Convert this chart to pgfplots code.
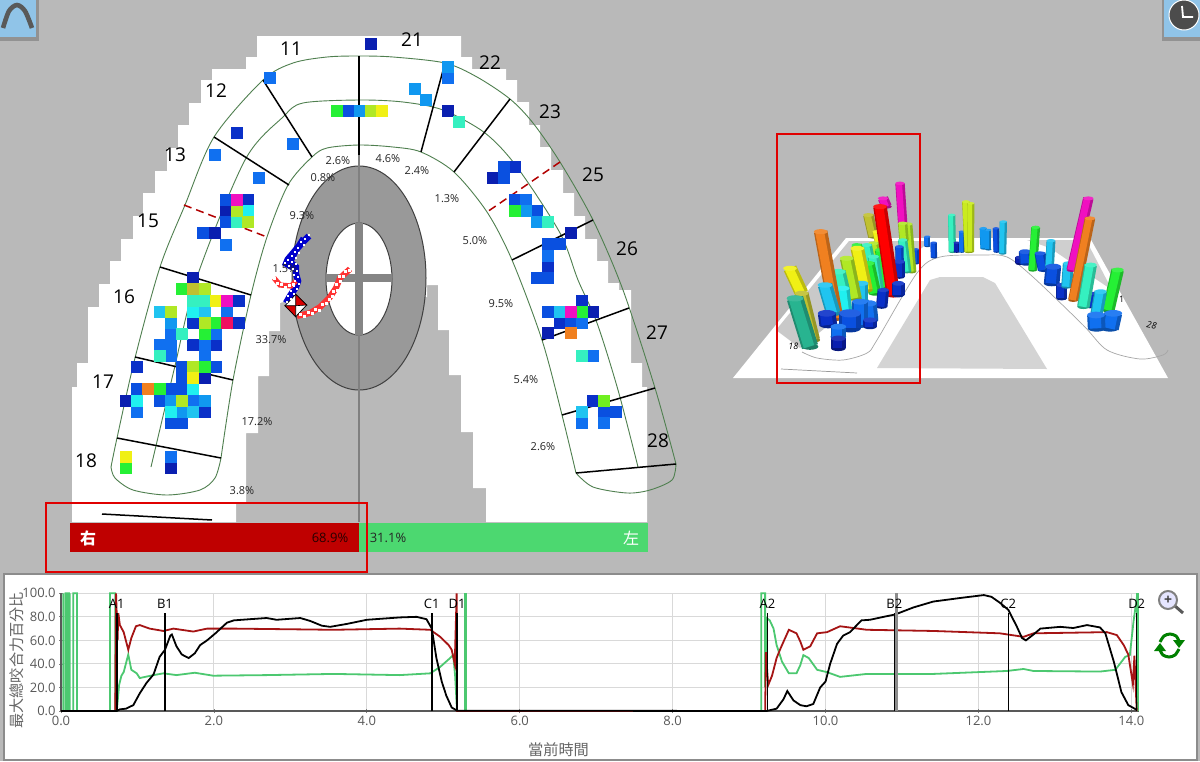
\documentclass[border=0pt]{standalone}
\usepackage{pgfplots}
\pgfplotsset{compat=1.18}
\usepackage{fontspec}
\setmainfont{Open Sans}
\newfontfamily\cjk{Noto Sans CJK TC}
\definecolor{bg}{HTML}{B9B9B9}
\definecolor{nav}{HTML}{0A1FB0}
\definecolor{dk}{HTML}{0A30C8}
\definecolor{bl}{HTML}{0A50E0}
\definecolor{md}{HTML}{1070F0}
\definecolor{sk}{HTML}{1098F0}
\definecolor{skb}{HTML}{20C4F0}
\definecolor{cy}{HTML}{20F0F0}
\definecolor{te}{HTML}{35F0C0}
\definecolor{gr}{HTML}{25F035}
\definecolor{lg}{HTML}{70F020}
\definecolor{yg}{HTML}{B0E825}
\definecolor{ye}{HTML}{F0F015}
\definecolor{gd}{HTML}{C0C030}
\definecolor{or}{HTML}{F08020}
\definecolor{ma}{HTML}{F010C0}
\definecolor{rd}{HTML}{F01060}
\definecolor{arch}{HTML}{4F7F4F}
\definecolor{chartgreen}{HTML}{4CC870}
\definecolor{chartred}{HTML}{A51414}
\definecolor{barg}{HTML}{4CD870}
\definecolor{icon}{HTML}{90C4E8}
\newcommand{\cells}[2]{\addplot[only marks,mark=square*,mark size=2.8pt,color=#1,mark options={line width=0pt}] coordinates {#2};}
\newcommand{\cyl}[6]{%
 \draw[fill=#5!70!black,draw=none] (axis cs:#3,#4) ellipse [x radius=#6*0.78,y radius=#6/3.4];
 \addplot[draw=#5!78!black,line width=#6*0.26pt,line cap=butt] coordinates {(#1,#2)(#3,#4)};
 \addplot[draw=#5,line width=#6*0.17pt,line cap=butt] coordinates {(#1-3,#2)(#3-3,#4)};
 \draw[fill=#5!90!white,draw=none] (axis cs:#1,#2) ellipse [x radius=#6*0.78,y radius=#6/3.4];}
\newcommand{\tooth}[3]{\node[font=\fontsize{9.5pt}{10pt}\selectfont,black] at (#1,#2) {#3};}
\newcommand{\pct}[3]{\node[font=\fontsize{5.5pt}{6pt}\selectfont,black!85] at (#1,#2) {#3};}
\newcommand{\curve}[1]{\addplot[draw=arch,line width=0.45pt,smooth,tension=0.5] coordinates {#1};}
\newcommand{\sep}[1]{\addplot[draw=black,line width=0.75pt] coordinates {#1};}
\newcommand{\mk}[2]{\addplot[black,line width=0.75pt] coordinates {(#1,0)(#1,83)};
 \node[font=\fontsize{6.5pt}{7pt}\selectfont,black] at (#1,91) {#2};}
\begin{document}
\begin{tikzpicture}
\begin{axis}[name=main,at={(0pt,0pt)},anchor=south west,scale only axis,width=600pt,height=380.5pt,xmin=0,xmax=1200,ymin=0,ymax=761,y dir=reverse,hide axis,clip=true]
% background
\addplot[fill=bg,draw=none] coordinates {(0,0)(1200,0)(1200,761)(0,761)};
% white stepped area
\addplot[fill=white,draw=none] coordinates {
(257,36)(461,36)(461,57)(472,57)(472,69)(506,69)(506,80)(517,80)(517,102)(529,102)(529,125)(540,125)(540,147)(551,147)(551,170)(563,170)(563,193)(574,193)(574,216)(585,216)(585,239)(597,239)(597,261)(608,261)(608,283)(619,283)(619,290)(631,290)(631,363)(642,363)(642,387)(647,387)(647,522)
(486,522)(486,488)(473,488)(473,432)(461,432)(461,375)(449,375)(449,330)(438,330)(438,285)(427,285)(427,297)(300,297)(280,303)(280,331)(269,331)(269,376)(258,376)(258,433)(246,433)(246,502)(236,502)(236,522)
(72,522)(72,387)(77,387)(77,363)(88,363)(88,307)(99,307)(99,284)(110,284)(110,261)(121,261)(121,239)(133,239)(133,216)(143,216)(143,193)(155,193)(155,171)(167,171)(167,148)(178,148)(178,125)(189,125)(189,103)(201,103)(201,80)(212,80)(212,69)(246,69)(246,57)(257,57)};
% arch
\curve{(111,467)(117,438)(135,358)(160,267)(185,205)(214,137)(263,80)(293,63)(327,57)(359,56)(393,57)(445,63)(477,77)(510,99)(533,123)(560,162)(593,220)(623,290)(655,388)(676,464)}
\curve{(676,464)(672,480)(650,490)(627,493)(593,487)(576,473)}
\curve{(111,467)(115,478)(133,490)(167,495)(200,490)(215,478)(221,458)}
\curve{(221,458)(233,380)(251,295)(267,237)(288,185)(312,157)(327,148)(359,145)(393,147)(421,152)(454,172)(487,212)(512,260)(542,340)(562,415)(576,473)}
\curve{(151,467)(174,370)(197,277)(245,160)(283,117)(303,103)(359,100)(403,102)(443,110)(485,133)(517,167)(560,233)(578,280)(597,323)(618,390)(638,467)}
% ellipse
\draw[fill=black!40,draw=black!75,line width=0.5pt] (axis cs:359,278) ellipse [x radius=67,y radius=112];
\draw[fill=white,draw=black!75,line width=0.5pt] (axis cs:359,279) ellipse [x radius=33,y radius=56];
\addplot[draw=black!50,line width=0.6pt] coordinates {(359,155)(359,522)};
\addplot[fill=black!48,draw=none] coordinates {(355,223)(363,223)(363,335)(355,335)};
\addplot[fill=black!48,draw=none] coordinates {(326,274)(392,274)(392,282)(326,282)};
% separators
\sep{(359,56)(359,155)}
\sep{(263,80)(312,157)}
\sep{(214,137)(289,185)}
\sep{(160,267)(251,295)}
\sep{(135,357)(233,380)}
\sep{(117,438)(221,458)}
\sep{(102,514)(212,520)}
\sep{(445,63)(421,152)}
\sep{(510,99)(454,172)}
\sep{(593,220)(512,260)}
\sep{(629,308)(542,340)}
\sep{(655,388)(562,415)}
\sep{(676,464)(576,473)}
\addplot[draw=red!70!black,line width=0.75pt,dash pattern=on 4pt off 2.5pt] coordinates {(184,205)(267,237)};
\addplot[draw=red!70!black,line width=0.75pt,dash pattern=on 4pt off 2.5pt] coordinates {(560,162)(487,212)};
% cells
\cells{nav}{(193.3,278.3)(370.7,44)(448.3,111)(493.3,177.7)(571,233.3)(548.3,333.3)(593.3,311.7)(204.7,378.3)(171,467.7)(125.7,400.7)(214.7,233.3)(225.7,211.3)}
\cells{dk}{(137,367.3)(238.7,300.7)(193.3,322.7)(193.3,345.3)(216,345.3)(204.7,412)(237.3,133.3)(248.3,200)(515.3,166.7)(548.3,266.7)(582.3,300.7)(560,322.7)(593.3,400.7)(238.7,322.7)}
\cells{bl}{(137,389.3)(182.3,367.3)(216,367.3)(182.3,378.3)(171,389.3)(182.3,389.3)(159.7,400.7)(171,423)(182.3,423)(225.7,200)(225.7,222.3)(203.3,233.3)(348.7,111)(504,166.7)(504,177.7)(515.3,200)(537.3,211.3)(548.3,244.3)(560,244.3)(537.3,278)(548.3,278)(548.3,311.7)(571,322.7)(604.3,412)(615.7,412)}
\cells{md}{(216,334)(159.7,345.3)(171,345.3)(171,356.3)(204.7,345.3)(204.7,356.3)(171,334)(227.3,311.7)(137,412)(171,456.7)(270,77.7)(292.7,144.3)(214.7,155.3)(259,177.7)(225.7,244.7)(448.3,77.7)(526.3,200)(548.3,255.7)(582.3,322.7)(593.3,356)(582.3,422.7)(604.3,422.7)(193.3,400.7)}
\cells{sk}{(171,322.7)(171,400.7)(182.3,412)(204.7,400.7)(448.3,66.7)(415,88.7)(426.3,99.7)(360,111)(526.3,211.3)(537.3,222.3)}
\cells{skb}{(204.7,311.7)(193.3,412)(560,311.7)(582.3,412)(159.7,311.7)}
\cells{cy}{(193.3,311.7)(193.3,389.3)(137,400.7)(171,412)(248.3,211.3)}
\cells{te}{(193.3,300.7)(204.7,300.7)(182.3,334)(159.7,356.3)(237.3,222.3)(459.3,122)(548.3,222.3)(582.3,356)}
\cells{gr}{(182.3,289.3)(216,322.7)(204.7,334)(204.7,367.3)(159.7,389.3)(125.7,467.7)(336.7,111)(515.3,211.3)(582.3,311.7)}
\cells{lg}{(604.3,400.7)}
\cells{yg}{(204.7,289.3)(204.7,322.7)(193.3,367.3)(182.3,400.7)(171,311.7)(237.3,211.3)(248.3,222.3)(371,111)}
\cells{ye}{(216,300.7)(193.3,378.3)(125.7,456.7)(381.7,111)}
\cells{gd}{(193.3,289.3)}
\cells{or}{(148.3,389.3)(571,333.3)}
\cells{ma}{(227.3,300.7)(237.3,200)(571,311.7)}
\cells{rd}{(227.3,322.7)}
% traces
\addplot[draw=blue!80!black,line width=3.2pt] coordinates {(309,236)(302,243)(296,250)(292,258)(290,262)(296,267)(296,274)(298,281)(296,287)(290,296)(286,303)};
\addplot[draw=blue!80!black,line width=2.4pt] coordinates {(303,238)(298,246)(287,259)(285,264)(292,268)};
\addplot[only marks,mark=square*,mark size=0.45pt,color=white,mark options={line width=0pt}] coordinates {(309,235)(305,239)(301,242)(304,245)(298,248)(295,252)(299,253)(292,256)(296,258)(288,260)(292,262)(285,263)(289,266)(296,264)(293,269)(297,271)(294,275)(298,277)(295,281)(299,284)(294,286)(297,289)(291,291)(294,294)(288,296)(291,299)(287,302)};
\addplot[draw=red!80!white,line width=2.6pt] coordinates {(274,278)(280,285)(291,286)(296,281)};
\addplot[draw=red!80!white,line width=3pt] coordinates {(297,316)(310,313)(320,307)(330,297)(336,288)(340,278)(350,269)};
\addplot[only marks,mark=square*,mark size=0.5pt,color=white,mark options={line width=0pt}] coordinates {(274,278)(277,283)(281,284)(285,287)(289,285)(293,284)(300,314)(304,316)(308,312)(312,313)(315,309)(319,310)(322,304)(326,303)(329,299)(332,296)(333,291)(337,290)(336,284)(340,281)(339,276)(343,276)(345,271)(349,270)};
% diamond
\addplot[fill=white,draw=black,line width=0.4pt] coordinates {(295.7,294.3)(306.7,305)(295.7,316.7)(285,305.7)} --cycle;
\addplot[fill=red!85!black,draw=black,line width=0.3pt] coordinates {(295.7,294.3)(306.7,305)(295.7,305.7)} --cycle;
\addplot[fill=red!85!black,draw=black,line width=0.3pt] coordinates {(285,305.7)(295.7,316.7)(295.7,305.7)} --cycle;
% labels
\tooth{291}{49}{11}\tooth{216}{91}{12}\tooth{175}{155}{13}\tooth{148}{221}{15}\tooth{124}{297}{16}\tooth{103}{382}{17}\tooth{86}{461}{18}
\tooth{412}{40}{21}\tooth{490}{63}{22}\tooth{550}{112}{23}\tooth{593}{175}{25}\tooth{627}{249}{26}\tooth{657}{333}{27}\tooth{658}{441}{28}
\pct{338}{161}{2.6\%}\pct{323}{178}{0.8\%}\pct{388}{159}{4.6\%}\pct{417}{171}{2.4\%}\pct{302}{216}{9.3\%}\pct{447}{199}{1.3\%}\pct{285}{269}{1.5\%}\pct{475}{241}{5.0\%}\pct{501}{304}{9.5\%}\pct{271}{340}{33.7\%}\pct{526}{380}{5.4\%}\pct{257}{422}{17.2\%}\pct{543}{447}{2.6\%}\pct{242}{491}{3.8\%}
% balance bar
\addplot[fill=barg,draw=none] coordinates {(358,523)(648,523)(648,552)(358,552)};
\addplot[fill=red!75!black,draw=none] coordinates {(69.5,523)(358.5,523)(358.5,552)(69.5,552)};
\node[font=\cjk\fontsize{8pt}{9pt}\selectfont\bfseries,white] at (88,538) {右};
\node[font=\cjk\fontsize{8pt}{9pt}\selectfont,white] at (631,538) {左};
\node[font=\fontsize{6.5pt}{7pt}\selectfont,black!85!red] at (330,538) {68.9\%};
\node[font=\fontsize{6.5pt}{7pt}\selectfont,black!85] at (388,538) {31.1\%};
% 3D platform
\addplot[fill=white,draw=none] coordinates {(733,378)(846,238)(1090,238)(1168,378)};
\addplot[fill=black!21,draw=none] coordinates {(776,330)(849,241)(930,241)(860,300)(800,348)};
\addplot[fill=black!19,draw=none] coordinates {(1027,240)(1086,240)(1112,290)(1075,265)(1050,248)};
\addplot[fill=black!17,draw=none] coordinates {(877,368)(930,280)(940,277)(983,277)(995,283)(1047,369)};
\addplot[draw=black!35,line width=0.35pt,smooth] coordinates {(802,352)(817,358)(843,360)(867,353)(877,340)(917,273)(940,257)(983,255)(1007,257)(1033,277)(1083,325)(1107,350)(1140,359)(1163,355)(1168,350)};
\addplot[draw=black!40,line width=0.35pt] coordinates {(781,369)(857,373)};
% red frames
\addplot[draw=red!88!black,line width=1.4pt] coordinates {(46,503)(367,503)(367,572)(46,572)} --cycle;
\addplot[draw=red!88!black,line width=1.4pt] coordinates {(777,134)(920,134)(920,383)(777,383)} --cycle;
% icons
\addplot[fill=black!55,draw=none,opacity=0.55] coordinates {(0,0)(39,0)(39,41)(0,41)};
\addplot[fill=icon,draw=none] coordinates {(0,0)(36,0)(36,37)(0,37)};
\addplot[draw=black!65,line width=2.3pt,smooth] coordinates {(3,28)(9,11)(17,5)(25,11)(32,28)};
\addplot[fill=black!55,draw=none,opacity=0.55] coordinates {(1162,0)(1200,0)(1200,41)(1162,41)};
\addplot[fill=icon,draw=none] coordinates {(1164,0)(1200,0)(1200,37)(1164,37)};
\draw[fill=black!70,draw=white,line width=0.5pt] (axis cs:1184,15) ellipse [x radius=15,y radius=15];
\addplot[draw=white,line width=0.9pt] coordinates {(1182,6)(1183,17)(1193,17)};
% bottom panel
\addplot[fill=white,draw=black!45,line width=0.6pt] coordinates {(4,574)(1197,574)(1197,760)(4,760)} --cycle;
% magnifier
\addplot[draw=black!65,line width=1.5pt] coordinates {(1175,606)(1183,613)};
\draw[fill=blue!10!white,draw=black!50,line width=1pt] (axis cs:1168,600) ellipse [x radius=9,y radius=9];
\node[font=\bfseries\fontsize{7pt}{7pt}\selectfont,black!75] at (1168,600) {+};
% refresh
\addplot[draw=green!50!black,line width=1.5pt,smooth] coordinates {(1160,642)(1164,636)(1170,634)(1176,636)(1179,641)};
\addplot[draw=green!50!black,line width=1.5pt,smooth] coordinates {(1179,649)(1175,655)(1169,657)(1163,655)(1160,650)};
\addplot[fill=green!50!black,draw=none] coordinates {(1173,640)(1185,640)(1179,648)};
\addplot[fill=green!50!black,draw=none] coordinates {(1154,651)(1166,651)(1160,643)};
\end{axis}
% 3D left bars (coordinates in a 3x grid of the region)
\begin{axis}[at={(365pt,185.5pt)},anchor=south west,scale only axis,width=110pt,height=130pt,xmin=0,xmax=660,ymin=0,ymax=780,y dir=reverse,hide axis,clip=false]
\cyl{592}{320}{592}{348}{md}{12}
\cyl{611}{338}{612}{382}{bl}{12}
\cyl{558}{358}{558}{400}{bl}{12}
\cyl{510}{160}{518}{280}{ma}{18}
\cyl{533}{282}{545}{425}{yg}{18}
\cyl{518}{280}{522}{330}{yg}{18}
\cyl{518}{330}{530}{425}{te}{18}
\cyl{508}{350}{510}{440}{bl}{16}
\cyl{508}{395}{508}{440}{dk}{22}
\cyl{459}{205}{470}{230}{ma}{20}
\cyl{415}{255}{430}{320}{gd}{20}
\cyl{440}{305}{452}{360}{ye}{16}
\cyl{430}{340}{450}{420}{yg}{20}
\cyl{410}{345}{425}{420}{te}{20}
\cyl{380}{345}{400}{420}{gr}{20}
\cyl{450}{360}{470}{470}{gr}{20}
\cyl{430}{380}{445}{480}{te}{22}
\cyl{415}{400}{435}{490}{gr}{24}
\cyl{450}{230}{490}{495}{red}{26}
\cyl{505}{460}{505}{495}{dk}{24}
\cyl{460}{480}{455}{530}{dk}{22}
\cyl{382}{355}{408}{480}{ye}{26}
\cyl{395}{460}{395}{510}{skb}{26}
\cyl{350}{385}{375}{505}{yg}{26}
\cyl{325}{425}{338}{480}{te}{28}
\cyl{338}{475}{348}{555}{cy}{26}
\cyl{272}{305}{320}{565}{or}{26}
\cyl{285}{465}{310}{550}{skb}{28}
\cyl{415}{520}{420}{570}{md}{32}
\cyl{390}{515}{390}{585}{md}{30}
\cyl{360}{550}{360}{595}{bl}{42}
\cyl{420}{570}{420}{590}{dk}{26}
\cyl{290}{550}{295}{585}{dk}{34}
\cyl{325}{590}{325}{620}{md}{30}
\cyl{325}{625}{325}{655}{nav}{28}
\cyl{180}{415}{215}{490}{ye}{26}
\cyl{215}{490}{250}{630}{gd}{26}
\cyl{195}{505}{240}{650}{te!75!black}{32}
\node[font=\fontsize{4.5pt}{5pt}\selectfont\itshape,black] at (190,648) {18};
\end{axis}
% 3D right bars
\begin{axis}[at={(470pt,185.5pt)},anchor=south west,scale only axis,width=115pt,height=110pt,xmin=0,xmax=690,ymin=0,ymax=660,y dir=reverse,hide axis,clip=false]
\cyl{35}{135}{37}{245}{te}{14}
\cyl{50}{218}{50}{245}{nav}{12}
\cyl{65}{185}{65}{245}{md}{12}
\cyl{78}{95}{85}{245}{yg!60!ye}{15}
\cyl{93}{100}{92}{245}{yg!60!ye}{13}
\cyl{130}{175}{132}{235}{sk}{14}
\cyl{145}{180}{145}{238}{sk}{12}
\cyl{168}{175}{170}{245}{bl}{12}
\cyl{190}{155}{188}{250}{skb}{14}
\cyl{240}{262}{240}{280}{nav}{18}
\cyl{255}{245}{258}{280}{bl}{24}
\cyl{287}{172}{278}{300}{gr}{17}
\cyl{300}{250}{310}{300}{bl}{21}
\cyl{333}{212}{328}{300}{skb}{17}
\cyl{340}{290}{335}{340}{bl}{30}
\cyl{365}{345}{365}{385}{dk}{21}
\cyl{385}{280}{380}{350}{skb}{21}
\cyl{445}{85}{395}{300}{ma}{20}
\cyl{420}{340}{415}{380}{bl}{20}
\cyl{450}{145}{400}{390}{or}{20}
\cyl{455}{370}{450}{410}{dk}{17}
\cyl{452}{285}{430}{410}{te}{24}
\cyl{533}{300}{505}{420}{gr}{24}
\cyl{482}{365}{470}{430}{skb}{24}
\cyl{520}{430}{510}{475}{md}{34}
\cyl{468}{435}{470}{475}{md}{34}
\node[font=\fontsize{4.5pt}{5pt}\selectfont\itshape,black,rotate=-10] at (635,467) {28};
\node[font=\fontsize{4.5pt}{5pt}\selectfont,black] at (545,388) {1};
\end{axis}
% line chart
\begin{axis}[at={(30.5pt,25pt)},anchor=south west,scale only axis,width=539pt,height=58.85pt,
 xmin=0,xmax=14.1,ymin=0,ymax=100,axis lines=left,axis line style={draw=black!65,-,line width=0.6pt},
 xtick={0,2,4,6,8,10,12,14},ytick={0,20,40,60,80,100},
 xmajorgrids,ymajorgrids,grid style={draw=black!15,line width=0.5pt},
 tick style={draw=black!50,line width=0.4pt},major tick length=2pt,
 xticklabel style={/pgf/number format/.cd,fixed,fixed zerofill,precision=1,assume math mode=true},
 yticklabel style={/pgf/number format/.cd,fixed,fixed zerofill,precision=1,assume math mode=true},
 tick label style={font=\fontsize{6.5pt}{7pt}\selectfont,text=black!65,inner sep=1.5pt},
 xlabel={\cjk 當前時間},ylabel={\cjk 最大總咬合力百分比},
 label style={font=\fontsize{7.6pt}{8pt}\selectfont,text=black!60},
 xlabel style={at={(axis description cs:0.4615,-0.267)},anchor=north,inner sep=0pt},
 ylabel style={at={(axis description cs:-0.034,0.43)},anchor=south,inner sep=0pt},
 clip=false]
% green
\addplot[draw=chartgreen,line width=0.9pt] coordinates {(0,0)(0.03,0)(0.03,100)(0.03,0)(0.06,0)(0.06,100)(0.075,100)(0.075,0)(0.095,0)(0.095,100)(0.105,100)(0.105,0)(0.115,0)(0.115,100)(0.115,0)(0.16,0)(0.16,100)(0.21,100)(0.21,0)(0.64,0)(0.64,100)(0.71,100)(0.71,0)(0.73,0)(0.76,22)(0.79,30)(0.82,33)(0.88,48)(0.92,35)(0.99,32)(1.03,28)(1.21,30.5)(1.34,32)(1.51,30.5)(1.75,32.5)(1.99,30)(2.69,30.5)(3.57,31.5)(4.43,30.5)(4.83,32)(4.96,37.5)(5.09,45)(5.13,47.5)(5.155,30)(5.18,0)(5.29,0)(5.29,100)(5.29,0)(9.16,0)(9.16,100)(9.21,100)(9.21,20)(9.23,79)(9.27,77)(9.32,70)(9.36,56)(9.43,42)(9.52,32)(9.62,32)(9.67,39)(9.71,47.5)(9.78,45)(9.89,35)(10.02,33)(10.19,29)(10.54,31.5)(11.41,31.5)(12.37,34)(12.59,35.7)(12.72,34)(13.59,33.5)(13.79,35)(13.92,46)(13.98,47.5)(14.03,77)(14.08,100)(14.08,0)};
\addplot[draw=chartgreen,line width=1.5pt] coordinates {(5.29,0)(5.29,100)};
\addplot[draw=chartgreen,line width=1.6pt] coordinates {(14.08,0)(14.08,100)};
\addplot[draw=chartgreen,line width=1.4pt] coordinates {(0.085,0)(0.085,100)};
% red
\addplot[draw=chartred,line width=0.9pt] coordinates {(0,0)(0.71,0)(0.72,100)(0.74,60)(0.75,83)(0.77,73)(0.82,67)(0.88,52)(0.92,62)(0.98,72)(1.03,73)(1.16,70)(1.34,68)(1.47,70)(1.73,67.5)(1.91,70)(2.26,70)(3.57,69)(4.43,70)(4.83,69)(4.96,63)(5.07,56)(5.11,52)(5.15,40)(5.175,100)(5.18,0)(9.21,0)(9.22,50)(9.25,22)(9.30,30)(9.36,45)(9.41,53)(9.52,69)(9.62,66)(9.67,59)(9.71,52)(9.8,55)(9.89,66)(10.02,67)(10.19,72)(10.54,69)(11.41,68)(12.28,66)(12.59,63)(12.72,66)(13.68,67)(13.81,64.5)(13.9,56)(13.96,48)(14.02,23)(14.04,47)(14.07,0)};
% black
\addplot[draw=black,line width=0.9pt] coordinates {(0,0)(0.73,0)(0.77,1.4)(0.85,2)(0.946,5)(1.03,15)(1.12,24)(1.21,31)(1.29,46)(1.36,52)(1.43,64)(1.45,65)(1.51,55)(1.58,48)(1.67,45)(1.75,49)(1.82,56)(1.91,60)(2.02,66)(2.17,75)(2.26,77)(2.47,78)(2.69,79)(2.82,77.5)(3.13,79)(3.26,76.5)(3.41,72.5)(3.52,71.5)(3.74,74)(4.0,77.5)(4.43,79.5)(4.65,80)(4.78,78)(4.85,70)(4.91,45)(4.98,25)(5.04,13)(5.11,3)(5.18,0.3)(9.23,0)(9.36,2)(9.45,10)(9.5,17)(9.58,9)(9.67,5)(9.75,4)(9.84,6)(9.93,20)(10.0,25)(10.06,40)(10.15,57)(10.23,64)(10.32,67)(10.41,73)(10.47,77)(10.58,77.5)(10.76,80)(10.91,82)(11.15,88)(11.41,93)(11.76,96)(12.07,98.5)(12.17,97)(12.28,92)(12.39,86)(12.5,72)(12.57,62)(12.62,60)(12.72,65)(12.81,70)(13.07,71.5)(13.24,70.5)(13.42,73)(13.59,71)(13.66,66)(13.77,42)(13.87,16)(13.96,5)(14.07,1)};
% phase markers
\addplot[draw=black!45,line width=1.5pt] coordinates {(10.93,0)(10.93,100)};
\mk{0.73}{A1}\mk{1.36}{B1}\mk{4.85}{C1}\mk{5.18}{D1}\mk{9.24}{A2}\mk{10.9}{B2}\mk{12.39}{C2}\mk{14.07}{D2}
\end{axis}
\end{tikzpicture}
\end{document}
